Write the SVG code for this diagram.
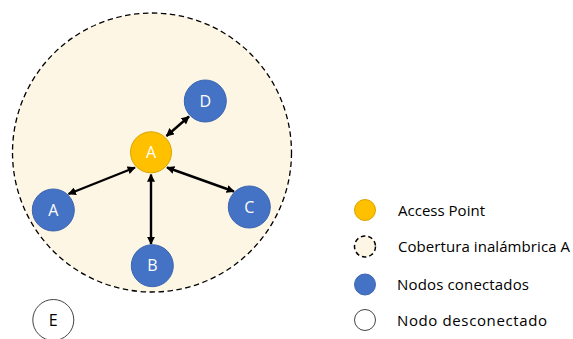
<svg xmlns="http://www.w3.org/2000/svg" width="573" height="339" viewBox="0 0 573 339">
<defs>
<marker id="ah" viewBox="0 0 10 10" refX="9" refY="5" markerWidth="3.4" markerHeight="3.4" orient="auto-start-reverse" markerUnits="strokeWidth">
<path d="M0,0 L10,5 L0,10 Z" fill="#000"/>
</marker>
<style>
.lbl{font-family:"Open Sans","Liberation Sans",sans-serif;font-size:15px;fill:#000}
.nl{font-family:"Open Sans","Liberation Sans",sans-serif;font-size:16px;fill:#fff;text-anchor:middle}
.blue{fill:#4472C4;stroke:#3B65B0;stroke-width:1}
.ap{fill:#FFC000;stroke:#D9A400;stroke-width:1}
.cov{fill:#FEF6E4;stroke:#000;stroke-width:1.3;stroke-dasharray:5.5 3.5}
.off{fill:#fff;stroke:#444;stroke-width:1}
.edge{stroke:#000;stroke-width:2.4;fill:none;marker-start:url(#ah);marker-end:url(#ah)}
</style>
</defs>
<g id="coverage"><circle class="cov" cx="152" cy="152.5" r="139.5"/></g>
<g id="connectors">
<line class="edge" x1="189" y1="116.5" x2="166.5" y2="136"/>
<line class="edge" x1="68.5" y1="194" x2="135" y2="167.5"/>
<line class="edge" x1="151" y1="174.5" x2="151" y2="244"/>
<line class="edge" x1="167" y1="167.5" x2="234" y2="191.5"/>
</g>
<g id="node-ap"><circle class="ap" cx="151" cy="152.3" r="20.5"/><text class="nl" x="151" y="158">A</text></g>
<g id="node-d"><circle class="blue" cx="205.3" cy="101" r="21"/><text class="nl" x="205.3" y="106.7">D</text></g>
<g id="node-a"><circle class="blue" cx="53.3" cy="210" r="21"/><text class="nl" x="53.3" y="215.7">A</text></g>
<g id="node-c"><circle class="blue" cx="249.3" cy="207" r="21"/><text class="nl" x="249.3" y="212.7">C</text></g>
<g id="node-b"><circle class="blue" cx="152.3" cy="265.7" r="21"/><text class="nl" x="152.3" y="271.4">B</text></g>
<g id="node-e"><circle class="off" cx="53.3" cy="320" r="20.5"/><text class="nl" x="53.3" y="325.7" style="fill:#000">E</text></g>
<g id="legend">
<circle class="ap" cx="365" cy="210" r="10.5"/>
<text class="lbl" x="398" y="216" textLength="87">Access Point</text>
<circle class="cov" cx="365" cy="246.5" r="10.5" style="stroke-width:1.5;stroke-dasharray:4.5 3"/>
<text class="lbl" x="398" y="252" textLength="172">Cobertura inalámbrica A</text>
<circle class="blue" cx="365" cy="284.5" r="10.5"/>
<text class="lbl" x="397" y="290" textLength="132">Nodos conectados</text>
<circle class="off" cx="365" cy="320" r="10.5"/>
<text class="lbl" x="397" y="326" textLength="150">Nodo desconectado</text>
</g>
</svg>
